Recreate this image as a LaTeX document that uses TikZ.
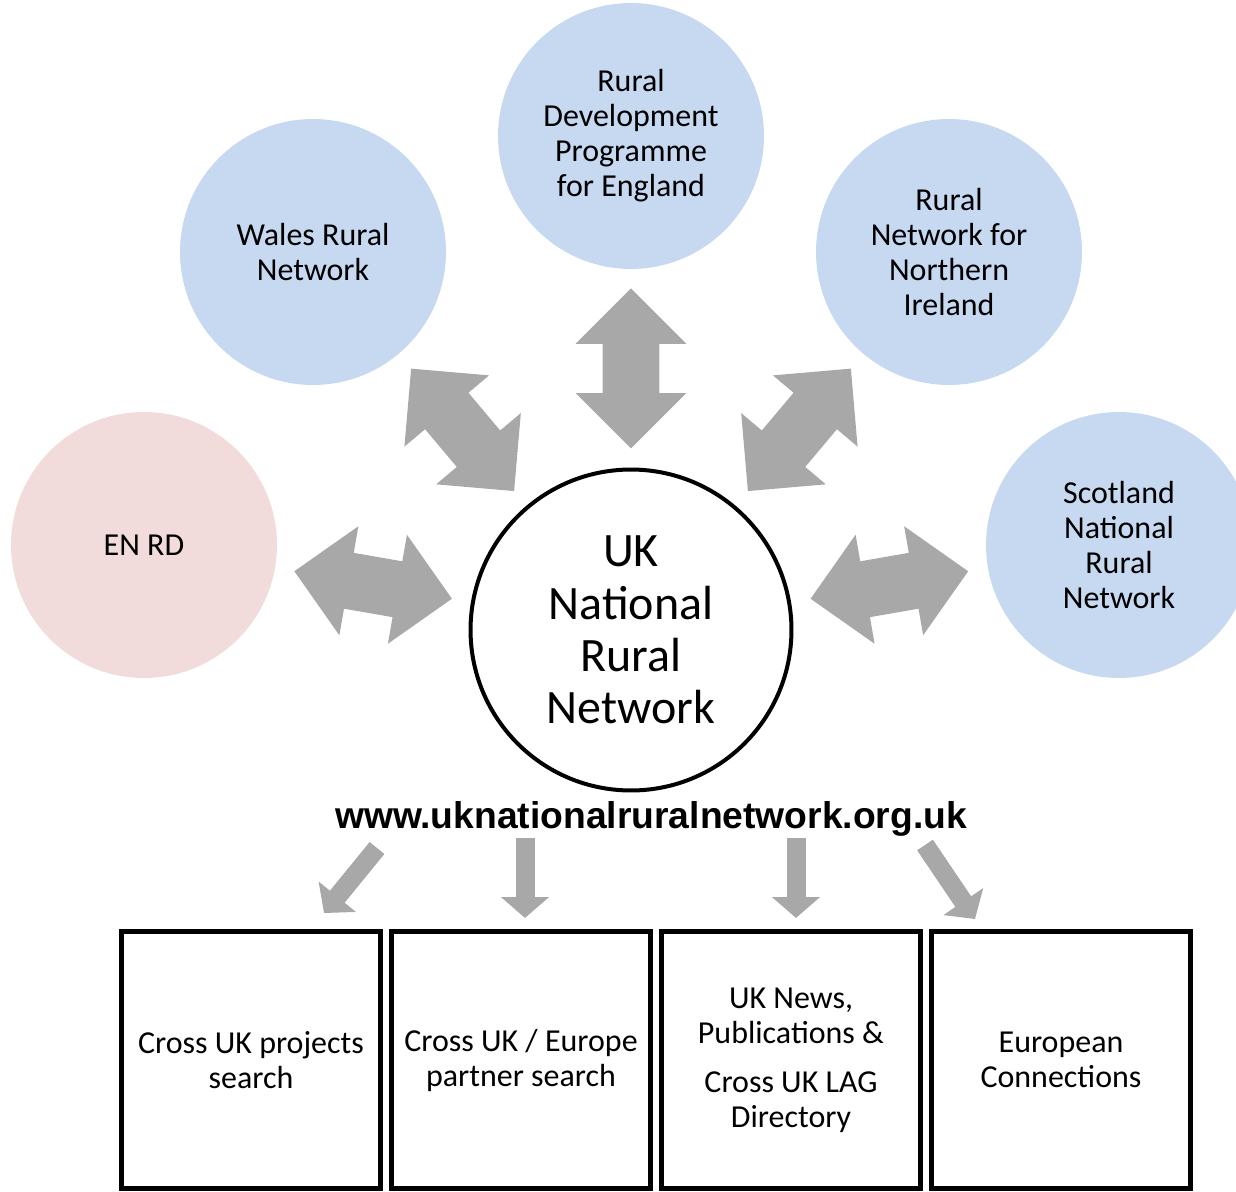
\documentclass[tikz,border=0pt]{standalone}
\usepackage{fontspec}
\setmainfont{Carlito}
\newfontfamily\urlfont{Liberation Sans}
\usetikzlibrary{arrows.meta,shapes.arrows,calc}
\definecolor{ruralblue}{RGB}{198,217,241}
\definecolor{ruralpink}{RGB}{242,220,219}
\definecolor{arrowgray}{RGB}{168,168,168}
\tikzset{
%Define style for the partner networks
network/.style={circle, fill=ruralblue, draw=none, minimum size=5.32cm, inner sep=0pt, align=center, font=\fontsize{18.2}{19.9}\selectfont},
%Define style for the central network
hub/.style={circle, draw=black, line width=0.08cm, fill=white, minimum size=6.42cm, inner sep=0pt, align=center, font=\fontsize{27.3}{29.8}\selectfont},
%Define style for the website sections
sectionbox/.style={rectangle, draw=black, line width=0.1cm, minimum width=5.2cm, minimum height=5.16cm, inner sep=0pt, align=center, font=\fontsize{18.2}{19.9}\selectfont},
%Define style for the block arrows
linkarrow/.style={double arrow, fill=arrowgray, draw=none, inner xsep=0pt, inner ysep=0.56cm, minimum height=3.2cm, minimum width=2.2cm, double arrow head extend=0.54cm, double arrow tip angle=90, sloped},
feedarrow/.style={draw=arrowgray, line width=0.38cm, -{Triangle[length=0.42cm,width=0.94cm]}},
}
\begin{document}
\begin{tikzpicture}[x=0.02cm, y=-0.02cm]
    \useasboundingbox (0,0) rectangle (1236,1192);
    % Networks
    \node[hub] (uk) at (631,630) {UK\\National\\Rural\\Network};
    \node[network] (rdpe) at (631,136) {Rural\\Development\\Programme\\for England};
    \node[network] (wales) at (313,252) {Wales Rural\\Network};
    \node[network] (ni) at (949,252) {Rural\\Network for\\Northern\\Ireland};
    \node[network, fill=ruralpink] (enrd) at (144,545) {EN RD};
    \node[network] (scot) at (1119,545) {Scotland\\National\\Rural\\Network};
    \foreach \n in {enrd,wales,rdpe,ni,scot}
      \path (uk) -- (\n) node[linkarrow, pos=0.5] (link-\n) {};
    % Website
    \node[font={\urlfont\bfseries\fontsize{21.2}{25}\selectfont}, anchor=base] (url) at (651,828) {www.uknationalruralnetwork.org.uk};
    \node[sectionbox] (projects) at (251,1060) {Cross UK projects\\search};
    \node[sectionbox] (partners) at (521,1060) {Cross UK / Europe\\partner search};
    \node[sectionbox] (news) at (791,1060) {UK News,\\Publications \&\\[0.28cm]Cross UK LAG\\Directory};
    \node[sectionbox] (europe) at (1061,1060) {European\\Connections};
    \coordinate (feed1) at (377,848);
    \coordinate (drop1) at (324,913);
    \coordinate (feed2) at (525,838);
    \coordinate (drop2) at (525,918);
    \coordinate (feed3) at (796,838);
    \coordinate (drop3) at (796,918);
    \coordinate (feed4) at (925,845);
    \coordinate (drop4) at (975,919);
    \foreach \i in {1,...,4}
      \draw[feedarrow] (feed\i) -- (drop\i);
\end{tikzpicture}
\end{document}
